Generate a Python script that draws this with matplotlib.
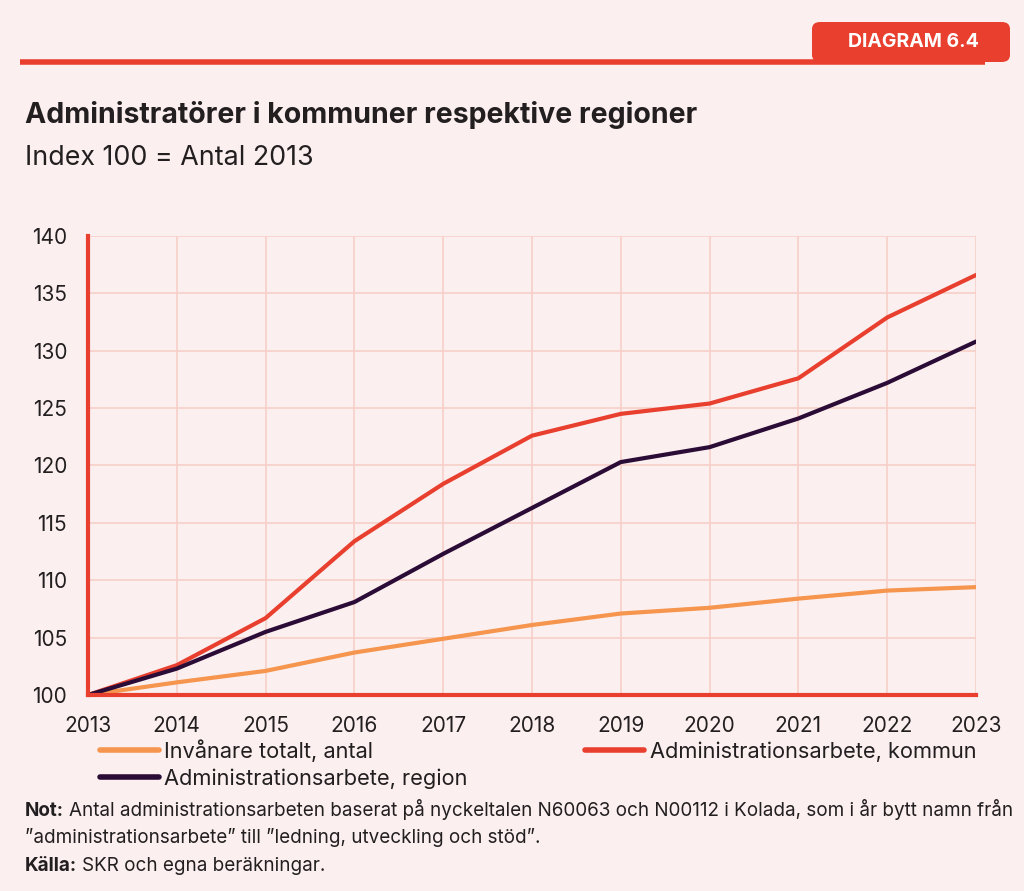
import matplotlib
matplotlib.use("Agg")
import matplotlib.pyplot as plt
from matplotlib.patches import FancyBboxPatch
from matplotlib.lines import Line2D

# data
years = [2013, 2014, 2015, 2016, 2017, 2018, 2019, 2020, 2021, 2022, 2023]
invanare = [100, 101.1, 102.1, 103.7, 104.9, 106.1, 107.1, 107.6, 108.4, 109.1, 109.4]
kommun = [100, 102.6, 106.7, 113.4, 118.4, 122.6, 124.5, 125.4, 127.6, 132.9, 136.6]
region = [100, 102.3, 105.5, 108.1, 112.3, 116.3, 120.3, 121.6, 124.1, 127.2, 130.8]

labels = ['Invånare totalt, antal', 'Administrationsarbete, kommun', 'Administrationsarbete, region']
yticks = [100, 105, 110, 115, 120, 125, 130, 135, 140]

bg = '#FBF0EF'
red = '#E83F2F'
dark = '#2B0C37'
orange = '#F5954E'
grid = '#F7CFC8'
txt = '#231F20'

plt.rcParams['font.family'] = ['Inter', 'DejaVu Sans']

W, H = 1024, 891
fig = plt.figure(figsize=(W / 100, H / 100), dpi=100, facecolor=bg)

def fx(px):
    return px / W

def fy(py):
    return 1 - py / H

# header line and tab
fig.add_artist(Line2D([fx(20), fx(985)], [fy(62), fy(62)], color=red, lw=4, solid_capstyle='butt'))
tab = FancyBboxPatch((fx(812), fy(62)), fx(198), fy(22) - fy(62),
                     boxstyle='round,pad=0,rounding_size=0.008', transform=fig.transFigure,
                     facecolor=red, edgecolor='none')
fig.add_artist(tab)
fig.text(fx(913), fy(42), 'DIAGRAM 6.4', color='white', fontsize=14, fontweight='bold',
         ha='center', va='center')

fig.text(fx(25), fy(115), 'Administratörer i kommuner respektive regioner', color=txt,
         fontsize=20.5, fontweight='bold', va='center')
fig.text(fx(25), fy(158), 'Index 100 = Antal 2013', color=txt, fontsize=19.3, va='center')

ax = fig.add_axes([fx(88), fy(695), fx(976) - fx(88), fy(236) - fy(695)])
ax.set_facecolor(bg)
ax.plot(years, invanare, color=orange, lw=3, label=labels[0], solid_capstyle='round')
ax.plot(years, kommun, color=red, lw=3, label=labels[1], solid_capstyle='round')
ax.plot(years, region, color=dark, lw=3, label=labels[2], solid_capstyle='round')

ax.set_xlim(2013, 2023)
ax.set_ylim(100, 140)
ax.set_xticks(years)
ax.set_yticks(yticks)
ax.grid(True, color=grid, lw=1.2)
ax.set_axisbelow(True)
for s in ['top', 'right']:
    ax.spines[s].set_visible(False)
for s in ['left', 'bottom']:
    ax.spines[s].set_color(red)
    ax.spines[s].set_linewidth(3)
ax.tick_params(length=0, labelsize=15, colors=txt)
ax.tick_params(axis='y', pad=15)
ax.tick_params(axis='x', pad=15)

h = ax.get_lines()
leg = fig.legend([h[0], h[2], h[1]], [labels[0], labels[2], labels[1]], ncol=2,
                 loc='upper left', bbox_to_anchor=(fx(100), fy(739)), frameon=False,
                 fontsize=15.7, handlelength=2.7, handletextpad=0.25, columnspacing=5.4,
                 labelspacing=0.3, borderaxespad=0, borderpad=0, labelcolor=txt)
for l in leg.get_lines():
    l.set_linewidth(4)

# footer: bold lead word followed by plain text, sharing a baseline
renderer = fig.canvas.get_renderer()

def footer(py, bold, rest):
    t = fig.text(fx(25), fy(py), bold, color=txt, fontsize=13.6, fontweight='bold', va='baseline')
    bb = t.get_window_extent(renderer)
    fig.text(bb.x1 / W + fx(5), fy(py), rest, color=txt, fontsize=13.6, va='baseline')

footer(816, 'Not:', 'Antal administrationsarbeten baserat på nyckeltalen N60063 och N00112 i Kolada, som i år bytt namn från')
fig.text(fx(25), fy(843), '”administrationsarbete” till ”ledning, utveckling och stöd”.', color=txt,
         fontsize=13.6, va='baseline')
footer(871, 'Källa:', 'SKR och egna beräkningar.')

fig.savefig('out.png', dpi=100, facecolor=bg)
